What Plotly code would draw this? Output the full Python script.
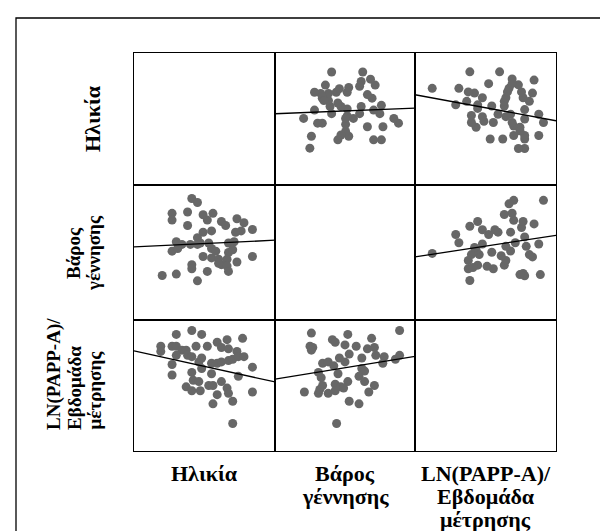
import plotly.graph_objects as go
from plotly.subplots import make_subplots

# ---- data (scaled values) ----
# pair 1: age vs birth weight
age_d = [0.41, 0.45, 0.27, 0.27, 0.38, 0.49, 0.56, 0.52, 0.38, 0.62,
         0.65, 0.73, 0.78, 0.84, 0.76, 0.72, 0.55, 0.49, 0.45, 0.47,
         0.30, 0.34, 0.40, 0.27, 0.31, 0.45, 0.53, 0.67, 0.71, 0.55,
         0.58, 0.49, 0.55, 0.60, 0.67, 0.70, 0.66, 0.73, 0.84, 0.62,
         0.66, 0.41, 0.41, 0.52, 0.67, 0.30, 0.20, 0.45, 0.60]
weight_d = [0.90, 0.87, 0.79, 0.74, 0.80, 0.78, 0.79, 0.74, 0.70, 0.73,
            0.70, 0.75, 0.72, 0.67, 0.66, 0.65, 0.66, 0.65, 0.61, 0.57,
            0.58, 0.56, 0.56, 0.51, 0.53, 0.56, 0.57, 0.57, 0.58, 0.53,
            0.51, 0.47, 0.46, 0.45, 0.50, 0.52, 0.45, 0.43, 0.47, 0.41,
            0.40, 0.41, 0.38, 0.36, 0.36, 0.34, 0.33, 0.29, 0.42]

# pair 2: age vs LN(PAPP-A)/week
age_e = [0.30, 0.41, 0.48, 0.66, 0.77, 0.19, 0.19, 0.27, 0.30, 0.34,
         0.37, 0.44, 0.52, 0.59, 0.62, 0.67, 0.73, 0.38, 0.41, 0.48,
         0.46, 0.30, 0.27, 0.55, 0.59, 0.62, 0.67, 0.70, 0.74, 0.78,
         0.84, 0.27, 0.41, 0.48, 0.55, 0.42, 0.46, 0.74, 0.37, 0.41,
         0.47, 0.53, 0.56, 0.62, 0.66, 0.67, 0.59, 0.84, 0.56, 0.70,
         0.70]
papp_e = [0.89, 0.92, 0.89, 0.85, 0.86, 0.80, 0.76, 0.80, 0.80, 0.77,
          0.77, 0.80, 0.80, 0.83, 0.79, 0.78, 0.76, 0.73, 0.72, 0.71,
          0.68, 0.73, 0.66, 0.67, 0.67, 0.68, 0.69, 0.70, 0.72, 0.72,
          0.64, 0.58, 0.60, 0.63, 0.59, 0.54, 0.53, 0.57, 0.49, 0.46,
          0.46, 0.50, 0.50, 0.53, 0.48, 0.44, 0.43, 0.45, 0.36, 0.38,
          0.21]

# pair 3: birth weight vs LN(PAPP-A)/week
weight_f = [0.26, 0.52, 0.89, 0.41, 0.43, 0.69, 0.25, 0.27, 0.26, 0.50,
            0.58, 0.66, 0.71, 0.53, 0.46, 0.62, 0.72, 0.78, 0.89, 0.86,
            0.77, 0.34, 0.38, 0.42, 0.50, 0.31, 0.45, 0.62, 0.64, 0.60,
            0.64, 0.33, 0.34, 0.43, 0.47, 0.52, 0.71, 0.67, 0.21, 0.31,
            0.38, 0.43, 0.49, 0.53, 0.60, 0.44, 0.32]
papp_f = [0.90, 0.89, 0.92, 0.85, 0.83, 0.86, 0.80, 0.79, 0.77, 0.81,
          0.80, 0.78, 0.79, 0.74, 0.71, 0.71, 0.73, 0.72, 0.73, 0.70,
          0.67, 0.67, 0.68, 0.65, 0.68, 0.60, 0.59, 0.63, 0.61, 0.57,
          0.53, 0.56, 0.50, 0.51, 0.49, 0.53, 0.50, 0.45, 0.45, 0.44,
          0.44, 0.46, 0.48, 0.38, 0.36, 0.21, 0.47]

# fitted line values at the left and right ends of each panel
fit_ends = {
    (1, 2): [0.489, 0.537],
    (1, 3): [0.646, 0.425],
    (2, 1): [0.541, 0.591],
    (2, 3): [0.410, 0.593],
    (3, 1): [0.765, 0.527],
    (3, 2): [0.549, 0.722],
}

variable_labels = [["Ηλικία"], ["Βάρος", "γέννησης"], ["LN(PAPP-A)/", "Εβδομάδα", "μέτρησης"]]

# ---- figure ----
panels = {
    (1, 2): (weight_d, age_d, [0.106, 1.006], [-0.11, 1.0]),
    (1, 3): (papp_e, age_e, [0.10, 1.0], [-0.12, 1.0]),
    (2, 1): (age_d, weight_d, [0.0, 1.0], [0.0, 1.0]),
    (2, 3): (papp_f, weight_f, [0.10, 1.0], [-0.125, 1.02]),
    (3, 1): (age_e, papp_e, [0.0, 1.0], [0.0, 1.0]),
    (3, 2): (weight_f, papp_f, [0.0, 1.0], [0.0, 1.0]),
}

W, H = 608, 531
fig = make_subplots(rows=3, cols=3, horizontal_spacing=0, vertical_spacing=0)

col_px = [(126, 267), (267, 407), (407, 548)]
row_px = [(45, 177), (177, 312), (312, 443)]

DOT = "#676767"
for (r, c), (xs, ys, xr, yr) in panels.items():
    fig.add_trace(go.Scatter(x=xs, y=ys, mode="markers",
                             marker=dict(size=9, color=DOT, line=dict(width=0)),
                             showlegend=False, hoverinfo="skip"), row=r, col=c)
    fe = fit_ends[(r, c)]
    fig.add_trace(go.Scatter(x=xr, y=fe, mode="lines",
                             line=dict(color="black", width=1.3),
                             showlegend=False, hoverinfo="skip"), row=r, col=c)
for d in range(1, 4):
    fig.add_trace(go.Scatter(x=[], y=[], mode="markers", showlegend=False,
                             hoverinfo="skip"), row=d, col=d)

for r in range(1, 4):
    for c in range(1, 4):
        xr = panels.get((r, c), (None, None, [0, 1], [0, 1]))[2]
        yr = panels.get((r, c), (None, None, [0, 1], [0, 1]))[3]
        x0, x1 = col_px[c - 1]
        y0, y1 = row_px[r - 1]
        fig.update_xaxes(domain=[x0 / W, x1 / W], range=xr, row=r, col=c,
                         showline=True, mirror=True, linecolor="black", linewidth=1.3,
                         showgrid=False, zeroline=False, showticklabels=False, ticks="")
        fig.update_yaxes(domain=[1 - y1 / H, 1 - y0 / H], range=yr, row=r, col=c,
                         showline=True, mirror=True, linecolor="black", linewidth=1.3,
                         showgrid=False, zeroline=False, showticklabels=False, ticks="")

FAM = "Liberation Serif, Times New Roman, serif"
font_big = dict(family=FAM, size=22, color="black", weight="bold")
font_small = dict(family=FAM, size=19, color="black", weight="bold")

# bottom labels, one annotation per text line
for c, lines in enumerate(variable_labels):
    x0, x1 = col_px[c]
    for i, t in enumerate(lines):
        fig.add_annotation(text="<b>" + t + "</b>", x=(x0 + x1) / 2 / W, y=1 - (465 + i * 23) / H,
                           xref="paper", yref="paper", xanchor="center", yanchor="middle",
                           showarrow=False, font=font_big)

# left labels (rotated), one annotation per text line
fig.add_annotation(text="<b>" + variable_labels[0][0] + "</b>", x=85 / W, y=1 - 111 / H,
                   xref="paper", yref="paper", xanchor="center", yanchor="middle",
                   textangle=-90, showarrow=False, font=font_big)
for r in (1, 2):
    lines = variable_labels[r]
    n = len(lines)
    for i, t in enumerate(lines):
        xc = 86 - (n - 1 - i) * 20
        if r == 1:
            fig.add_annotation(text="<b>" + t + "</b>", x=xc / W, y=1 - 245 / H,
                               xref="paper", yref="paper", xanchor="center", yanchor="middle",
                               textangle=-90, showarrow=False, font=font_small)
        else:
            fig.add_annotation(text="<b>" + t + "</b>", x=xc / W, y=1 - 424 / H,
                               xref="paper", yref="paper", xanchor="center", yanchor="bottom",
                               textangle=-90, showarrow=False, font=font_small)

# outer frame (left and top edges)
fig.add_shape(type="path", xref="paper", yref="paper",
              path=f"M {8 / W} 0 L {8 / W} {1 - 10 / H} L 1 {1 - 10 / H}",
              line=dict(color="black", width=1.3))

fig.update_layout(width=W, height=H, margin=dict(l=0, r=0, t=0, b=0),
                  paper_bgcolor="white", plot_bgcolor="white")

fig.write_html("out.html")
